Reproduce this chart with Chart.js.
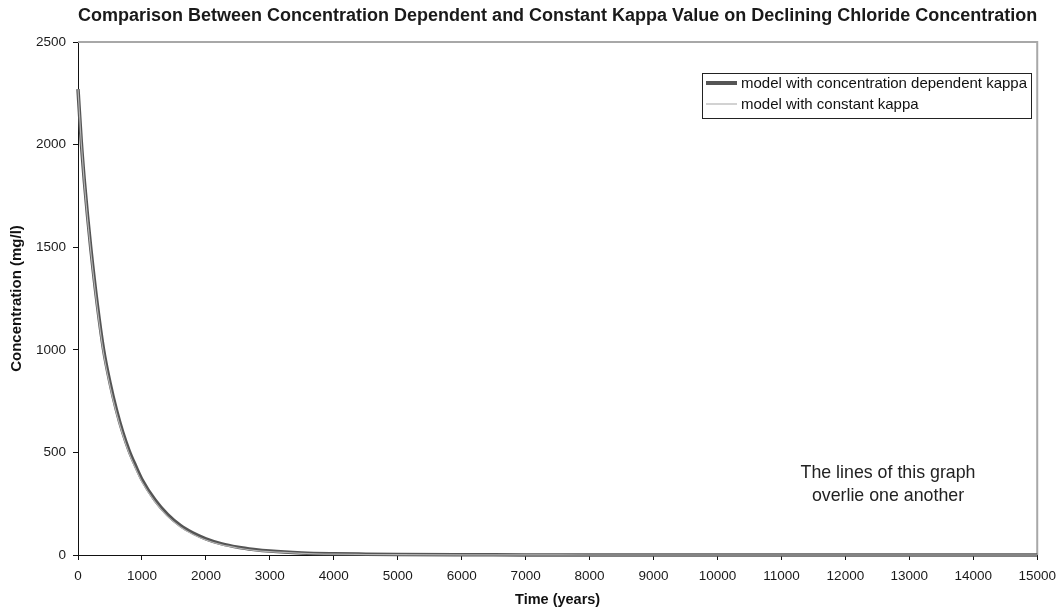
<!DOCTYPE html>
<html>
<head>
<meta charset="utf-8">
<title>Declining Chloride Concentration</title>
<script src="https://cdn.jsdelivr.net/npm/chart.js@4/dist/chart.umd.min.js"></script>
<style>
  html, body { margin: 0; padding: 0; background: #ffffff; }
  #wrap { width: 1064px; height: 615px; }
</style>
</head>
<body>
<div id="wrap"><canvas id="chart" width="1064" height="615"></canvas></div>
<script>
// Time axis (years) and modelled chloride concentration (mg/l)
const years = [0, 50, 100, 150, 200, 300, 400, 500, 600, 700, 800, 900, 1000, 1200, 1400, 1600, 1800, 2000, 2250, 2500, 2750, 3000, 3500, 4000, 4500, 5000, 6000, 7000, 8000, 10000, 12000, 15000];
const concDependentKappa = [2270, 2020, 1820, 1650, 1495, 1225, 1000, 840, 708, 598, 508, 435, 368, 270, 197, 144, 107, 79, 54, 38, 27, 19, 10, 6, 4, 2.5, 1.2, 0.6, 0.3, 0.1, 0, 0];
const concConstantKappa = [2270, 2012, 1805, 1632, 1478, 1205, 982, 822, 692, 584, 494, 421, 356, 260, 188, 137, 100, 73, 49, 34, 23, 16, 8, 4, 2.5, 1.5, 0.6, 0.3, 0.1, 0, 0, 0];

const seriesLabels = ['model with concentration dependent kappa', 'model with constant kappa'];
const xRange = [0, 15000];
const xStep = 1000;
const yRange = [0, 2500];
const yStep = 500;

const chartTitle = 'Comparison Between Concentration Dependent and Constant Kappa Value on Declining Chloride Concentration';
const xTitle = 'Time (years)';
const yTitle = 'Concentration (mg/l)';
const noteLines = ['The lines of this graph', 'overlie one another'];

const FONT = '"Liberation Sans", Arial, Helvetica, sans-serif';

function toPoints(xs, ys) {
  return xs.map((x, i) => ({ x: x, y: ys[i] }));
}

// Frame, title, legend box and note drawn around the plot
const decorations = {
  id: 'decorations',
  beforeDatasetsDraw(chart) {
    const { ctx, chartArea: a } = chart;
    ctx.save();
    ctx.strokeStyle = '#a8a8a8';
    ctx.lineWidth = 2;
    ctx.beginPath();
    ctx.moveTo(a.left, a.top);
    ctx.lineTo(a.right, a.top);
    ctx.lineTo(a.right, a.bottom);
    ctx.stroke();
    ctx.restore();
  },
  afterDraw(chart) {
    const { ctx, chartArea: a } = chart;
    ctx.save();

    // title
    ctx.fillStyle = '#1a1a1a';
    ctx.font = 'bold 18px ' + FONT;
    ctx.textAlign = 'center';
    ctx.textBaseline = 'middle';
    ctx.fillText(chartTitle, (a.left + a.right) / 2, 16);

    // legend
    const bx = 702, by = 73, bw = 329, bh = 45;
    ctx.fillStyle = '#ffffff';
    ctx.fillRect(bx, by, bw, bh);
    ctx.strokeStyle = '#222222';
    ctx.lineWidth = 1;
    ctx.strokeRect(bx + 0.5, by + 0.5, bw, bh);
    const rows = [83, 104];
    chart.data.datasets.forEach((ds, i) => {
      const y = rows[i];
      ctx.strokeStyle = ds.borderColor;
      ctx.lineWidth = i === 0 ? 4 : 1.2;
      ctx.beginPath();
      ctx.moveTo(706, y);
      ctx.lineTo(737, y);
      ctx.stroke();
      ctx.fillStyle = '#111111';
      ctx.font = '15px ' + FONT;
      ctx.textAlign = 'left';
      ctx.textBaseline = 'middle';
      ctx.fillText(ds.label, 741, y + 1);
    });

    // note
    ctx.fillStyle = '#222222';
    ctx.font = '17.8px ' + FONT;
    ctx.textAlign = 'center';
    ctx.textBaseline = 'middle';
    ctx.fillText(noteLines[0], 888, 473);
    ctx.fillText(noteLines[1], 888, 496);

    ctx.restore();
  }
};

new Chart(document.getElementById('chart'), {
  type: 'line',
  data: {
    datasets: [
      {
        label: seriesLabels[0],
        data: toPoints(years, concDependentKappa),
        borderColor: '#555555',
        borderWidth: 3.5,
        pointRadius: 0,
        cubicInterpolationMode: 'monotone',
        fill: false,
        clip: 6,
        order: 2
      },
      {
        label: seriesLabels[1],
        data: toPoints(years, concConstantKappa),
        borderColor: '#b4b4b4',
        borderWidth: 1.2,
        pointRadius: 0,
        cubicInterpolationMode: 'monotone',
        fill: false,
        clip: 6,
        order: 1
      }
    ]
  },
  options: {
    responsive: false,
    animation: false,
    events: [],
    layout: { padding: { top: 42, right: 26, left: 0, bottom: 0 } },
    plugins: {
      legend: { display: false },
      title: { display: false },
      tooltip: { enabled: false }
    },
    scales: {
      x: {
        type: 'linear',
        min: xRange[0],
        max: xRange[1],
        ticks: {
          stepSize: xStep,
          autoSkip: false,
          maxRotation: 0,
          color: '#1a1a1a',
          padding: 8,
          font: { family: FONT, size: 13.5 },
          callback: v => String(v)
        },
        grid: { drawOnChartArea: false, drawTicks: true, tickLength: 5, color: '#111111', lineWidth: 1 },
        border: { display: true, color: '#111111', width: 1 },
        title: {
          display: true,
          text: xTitle,
          color: '#111111',
          font: { family: FONT, size: 14.5, weight: 'bold' },
          padding: { top: 0, bottom: 6 }
        },
        afterFit(scale) { scale.height = 60; }
      },
      y: {
        type: 'linear',
        min: yRange[0],
        max: yRange[1],
        ticks: {
          stepSize: yStep,
          color: '#1a1a1a',
          padding: 7,
          font: { family: FONT, size: 13.5 },
          callback: v => String(v)
        },
        grid: { drawOnChartArea: false, drawTicks: true, tickLength: 5, color: '#111111', lineWidth: 1 },
        border: { display: true, color: '#111111', width: 1 },
        title: {
          display: true,
          text: yTitle,
          color: '#111111',
          font: { family: FONT, size: 15, weight: 'bold' },
          padding: { top: 8, bottom: 0 }
        },
        afterFit(scale) { scale.width = 78; }
      }
    }
  },
  plugins: [decorations]
});
</script>
</body>
</html>
